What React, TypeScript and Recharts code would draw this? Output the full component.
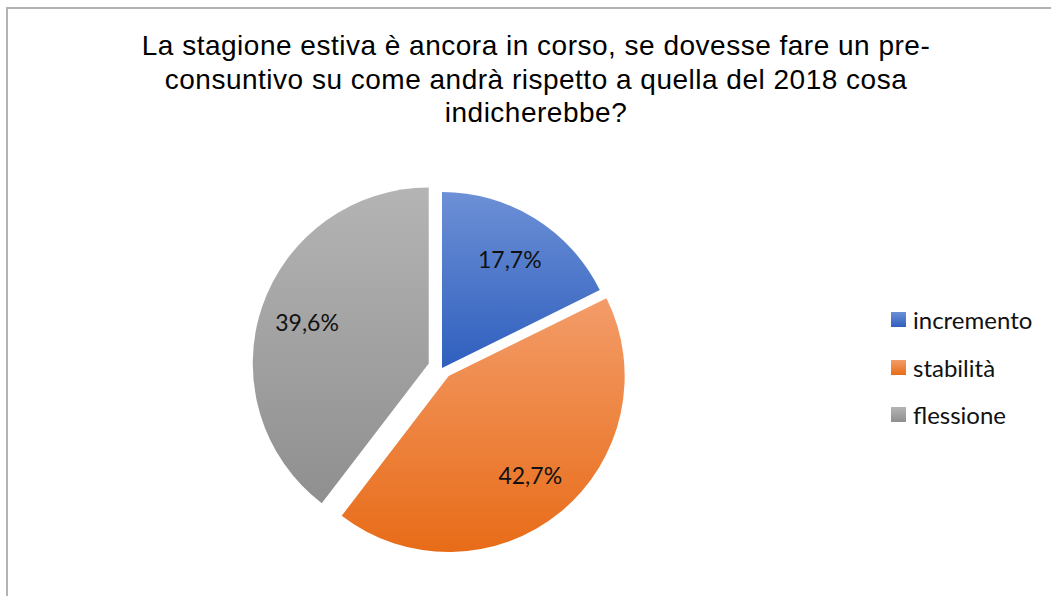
import React from 'react';
import { PieChart, Pie, Cell, Legend, Sector } from 'recharts';

const categories = ['incremento', 'stabilità', 'flessione'];
const values = [17.7, 42.7, 39.6];
const titleLines = [
  'La stagione estiva è ancora in corso, se dovesse fare un pre-',
  'consuntivo su come andrà rispetto a quella del 2018 cosa',
  'indicherebbe?',
];

// top / bottom colours of each slice gradient
const gradientStops: [string, string][] = [
  ['#6d90d6', '#2f5fbe'],
  ['#f39c69', '#e86c18'],
  ['#b4b4b4', '#8f8f8f'],
];
// how far each slice is pulled out of the pie, px
const explodeBy: Record<string, number> = { incremento: 0, 'stabilità': 10.5, flessione: 14 };

const data = categories.map((name, i) => ({ name, value: values[i] }));
const RADIAN = Math.PI / 180;
const labelFont = 'Lato, "Noto Sans", sans-serif';

const ExplodedSector = (props: any) => {
  const { cx, cy, midAngle, name } = props;
  const d = explodeBy[name] ?? 0;
  return (
    <Sector
      {...props}
      stroke="none"
      cx={cx + d * Math.cos(-midAngle * RADIAN)}
      cy={cy + d * Math.sin(-midAngle * RADIAN)}
    />
  );
};

const renderLabel = (props: any) => {
  const { cx, cy, midAngle, outerRadius, value, name } = props;
  const r = outerRadius * 0.73 + (explodeBy[name] ?? 0);
  const x = cx + r * Math.cos(-midAngle * RADIAN);
  const y = cy + r * Math.sin(-midAngle * RADIAN);
  return (
    <text
      x={x}
      y={y}
      textAnchor="middle"
      dominantBaseline="central"
      fontFamily={labelFont}
      fontSize={23}
      fill="#111"
    >
      {value.toFixed(1).replace('.', ',')}%
    </text>
  );
};

const renderLegend = (props: any) => {
  // keep the data order (Recharts sorts legend items by name)
  const items = [...(props.payload ?? [])].sort(
    (a: any, b: any) => categories.indexOf(a.value) - categories.indexOf(b.value),
  );
  return (
    <div>
      {items.map((entry: any) => (
        <div key={entry.value} style={{ display: 'flex', alignItems: 'center', height: 47.5 }}>
          <svg width={15} height={15} style={{ marginRight: 7 }}>
            <rect width={15} height={15} fill={`url(#slice-${categories.indexOf(entry.value)})`} />
          </svg>
          <span style={{ fontFamily: labelFont, fontSize: 24, color: '#111' }}>{entry.value}</span>
        </div>
      ))}
    </div>
  );
};

export default function App() {
  return (
    <div
      style={{
        position: 'fixed',
        left: 0,
        top: 0,
        width: 1051,
        height: 596,
        overflow: 'hidden',
        background: '#fff',
      }}
    >
      <div
        style={{
          position: 'absolute',
          left: 6,
          top: 7,
          width: 1100,
          height: 650,
          borderLeft: '2px solid #b3b3b3',
          borderTop: '2px solid #b3b3b3',
        }}
      />
      <div
        style={{
          position: 'absolute',
          left: 0,
          top: 29,
          width: 1072,
          textAlign: 'center',
          fontFamily: '"Liberation Sans", Arial, sans-serif',
          fontSize: 28,
          letterSpacing: 0.5,
          lineHeight: '33.5px',
          color: '#000',
        }}
      >
        {titleLines.map((line) => (
          <div key={line}>{line}</div>
        ))}
      </div>
      <div style={{ position: 'absolute', left: 0, top: 0 }}>
        <PieChart width={1051} height={596} margin={{ top: 0, right: 0, bottom: 0, left: 0 }}>
          <defs>
            {gradientStops.map(([top, bottom], i) => (
              <linearGradient key={i} id={`slice-${i}`} x1="0" y1="0" x2="0" y2="1">
                <stop offset="0%" stopColor={top} />
                <stop offset="100%" stopColor={bottom} />
              </linearGradient>
            ))}
          </defs>
          <Pie
            data={data}
            dataKey="value"
            nameKey="name"
            cx={442}
            cy={368}
            outerRadius={176}
            startAngle={90}
            endAngle={-270}
            stroke="none"
            label={renderLabel}
            labelLine={false}
            shape={ExplodedSector}
            activeShape={ExplodedSector}
            inactiveShape={ExplodedSector}
            isAnimationActive={false}
          >
            {data.map((d, i) => (
              <Cell key={d.name} fill={`url(#slice-${i})`} />
            ))}
          </Pie>
          <Legend
            layout="vertical"
            content={renderLegend}
            wrapperStyle={{ position: 'absolute', left: 891, top: 296, width: 160, right: 'auto', bottom: 'auto' }}
          />
        </PieChart>
      </div>
    </div>
  );
}
